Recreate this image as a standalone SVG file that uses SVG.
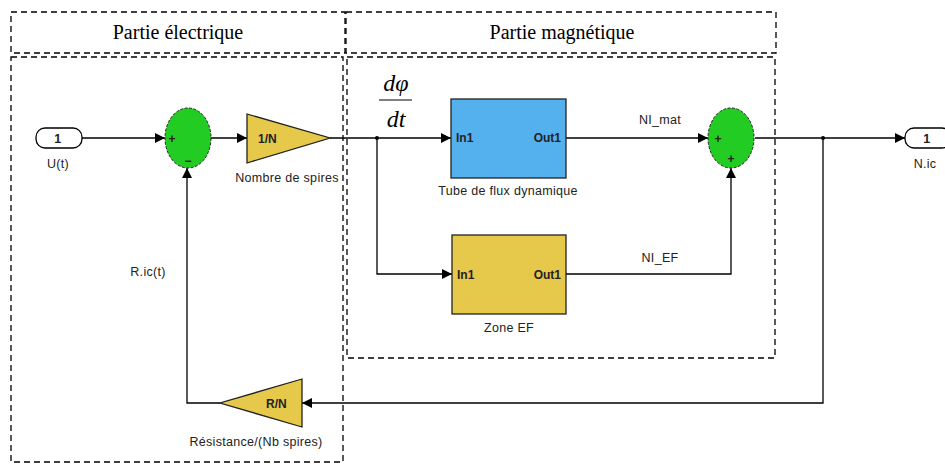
<svg xmlns="http://www.w3.org/2000/svg" width="945" height="464" viewBox="0 0 945 464">
<defs>
<marker id="arr" viewBox="0 0 10 10" refX="10" refY="5" markerWidth="10" markerHeight="10" markerUnits="userSpaceOnUse" orient="auto">
<path d="M0,0 L10,5 L0,10 z" fill="#000"/>
</marker>
</defs>
<style>
.dash{fill:none;stroke:#000;stroke-width:1.3;stroke-dasharray:6,4}
.hdr{font-family:"Liberation Serif",serif;font-size:20px;fill:#000;text-anchor:middle}
.lbl{font-family:"Liberation Sans",Arial,sans-serif;font-size:12.5px;fill:#222;text-anchor:middle;letter-spacing:0.3px}
.blk{font-family:"Liberation Sans",Arial,sans-serif;font-size:12px;font-weight:bold;fill:#222}
.wire{fill:none;stroke:#000;stroke-width:1.3}
.sum{fill:#22cc22;stroke:#222;stroke-width:1;stroke-dasharray:3,1.5}
.gain{fill:#e6c84b;stroke:#222;stroke-width:1.3}
.port{fill:#fff;stroke:#000;stroke-width:1.3}
.sign{font-family:"Liberation Sans",Arial,sans-serif;font-size:12px;font-weight:bold;fill:#222;text-anchor:middle}
.math{font-family:"Liberation Serif",serif;font-style:italic;font-size:24px;fill:#000;text-anchor:middle}
</style>

<g id="frames">
<rect class="dash" x="11" y="12" width="334" height="41"/>
<rect class="dash" x="11" y="57" width="332" height="405"/>
<rect class="dash" x="346" y="12" width="430" height="41"/>
<rect class="dash" x="347" y="57" width="428" height="301"/>
<text class="hdr" x="178" y="39">Partie électrique</text>
<text class="hdr" x="562" y="39">Partie magnétique</text>
</g>

<g id="connectors">
<line class="wire" x1="82" y1="138" x2="165" y2="138" marker-end="url(#arr)"/>
<line class="wire" x1="211" y1="138" x2="247" y2="138" marker-end="url(#arr)"/>
<line class="wire" x1="330" y1="138" x2="451" y2="138" marker-end="url(#arr)"/>
<polyline class="wire" points="377,138 377,274 452,274" marker-end="url(#arr)"/>
<line class="wire" x1="566" y1="138" x2="708" y2="138" marker-end="url(#arr)"/>
<polyline class="wire" points="566,274 731,274 731,168" marker-end="url(#arr)"/>
<line class="wire" x1="755" y1="138" x2="905" y2="138" marker-end="url(#arr)"/>
<polyline class="wire" points="823,138 823,403 302,403" marker-end="url(#arr)"/>
<polyline class="wire" points="220,403 187,403 187,168" marker-end="url(#arr)"/>
<circle cx="377" cy="138" r="2" fill="#000"/>
<circle cx="823" cy="138" r="2" fill="#000"/>
<text class="lbl" x="660" y="124">NI_mat</text>
<text class="lbl" x="660" y="262">NI_EF</text>
<text class="lbl" x="148" y="276">R.ic(t)</text>
<g id="dphidt">
<text class="math" x="396" y="91">dφ</text>
<line x1="379" y1="100" x2="412" y2="100" stroke="#000" stroke-width="1.2"/>
<text class="math" x="396" y="127">dt</text>
</g>
</g>

<g id="in_U">
<rect class="port" x="36" y="128" width="46" height="20" rx="9"/>
<text class="lbl" x="58" y="143" style="font-weight:bold">1</text>
<text class="lbl" x="58" y="168">U(t)</text>
</g>

<g id="sum1">
<ellipse class="sum" cx="188" cy="138" rx="23" ry="30"/>
<text class="sign" x="172" y="143">+</text>
<text class="sign" x="188" y="165">−</text>
</g>

<g id="gain_1N">
<polygon class="gain" points="247,114 330,138 247,163"/>
<text class="blk" x="258" y="143">1/N</text>
<text class="lbl" x="287" y="182">Nombre de spires</text>
</g>

<g id="tube">
<rect x="451" y="99" width="115" height="79" fill="#55b0ee" stroke="#222" stroke-width="1.3"/>
<text class="blk" x="456" y="142">In1</text>
<text class="blk" x="561" y="142" text-anchor="end">Out1</text>
<text class="lbl" x="508" y="195">Tube de flux dynamique</text>
</g>

<g id="zoneEF">
<rect x="452" y="235" width="114" height="79" fill="#e6c84b" stroke="#222" stroke-width="1.3"/>
<text class="blk" x="457" y="279">In1</text>
<text class="blk" x="561" y="279" text-anchor="end">Out1</text>
<text class="lbl" x="509" y="332">Zone EF</text>
</g>

<g id="sum2">
<ellipse class="sum" cx="731" cy="138" rx="23" ry="30"/>
<text class="sign" x="718" y="143">+</text>
<text class="sign" x="731" y="163">+</text>
</g>

<g id="out_Nic">
<rect class="port" x="905" y="128" width="46" height="20" rx="9"/>
<text class="lbl" x="927" y="143" style="font-weight:bold">1</text>
<text class="lbl" x="925" y="168">N.ic</text>
</g>

<g id="gain_RN">
<polygon class="gain" points="302,379 220,403 302,427"/>
<text class="blk" x="266" y="408">R/N</text>
<text class="lbl" x="256" y="446">Résistance/(Nb spires)</text>
</g>
</svg>
